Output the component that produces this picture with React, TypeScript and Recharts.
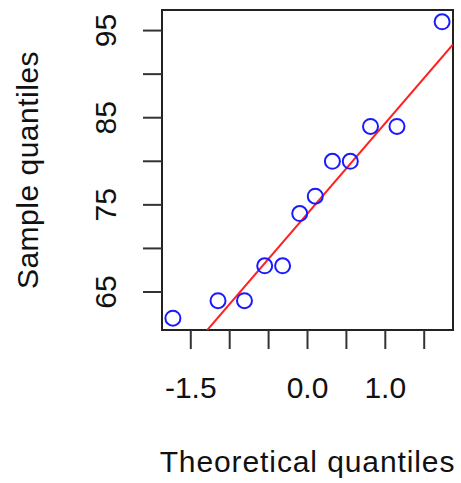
import React from 'react';
import { ScatterChart, Scatter, XAxis, YAxis, ReferenceLine, ReferenceArea, Label } from 'recharts';

// theoretical quantiles (x) and sorted sample values (y)
const theoretical = [-1.73, -1.15, -0.81, -0.55, -0.32, -0.1, 0.1, 0.32, 0.55, 0.81, 1.15, 1.73];
const sample = [62, 64, 64, 68, 68, 74, 76, 80, 80, 84, 84, 96];

const xTicks = [-1.5, -1.0, -0.5, 0.0, 0.5, 1.0, 1.5];
const xTickLabels = ['-1.5', '', '', '0.0', '', '1.0', ''];
const yTicks = [65, 70, 75, 80, 85, 90, 95];
const yTickLabels = ['65', '', '75', '', '85', '', '95'];

// qq reference line end points (through 1st and 3rd quartiles)
const lineX = [-1.87, 1.87];
const lineY = [54.6, 93.4];

const xDomain = [-1.87, 1.87];
const yDomain = [60.64, 97.36];

const FONT = '"Liberation Sans", Arial, Helvetica, sans-serif';
const FS = 30;

const points = theoretical.map((x, i) => ({ x, y: sample[i] }));

const XTick = ({ x, payload }: any) => {
    const i = xTicks.indexOf(payload.value);
    return (
        <text x={x} y={398} textAnchor="middle" fontFamily={FONT} fontSize={FS} fill="#111">
            {xTickLabels[i]}
        </text>
    );
};

const YTick = ({ y, payload }: any) => {
    const i = yTicks.indexOf(payload.value);
    return (
        <text x={116} y={y} transform={`rotate(-90, 116, ${y})`} textAnchor="middle" fontFamily={FONT} fontSize={FS} fill="#111">
            {yTickLabels[i]}
        </text>
    );
};

const Circle = (props: any) => (
    <circle cx={props.cx} cy={props.cy} r={7.5} fill="none" stroke="#1a1aff" strokeWidth={2} />
);

const XTitle = (props: any) => {
    const vb = props.viewBox;
    return (
        <text x={vb.x + vb.width / 2} y={472} textAnchor="middle" fontFamily={FONT} fontSize={FS} letterSpacing={0.9} fill="#111">
            Theoretical quantiles
        </text>
    );
};

const YTitle = (props: any) => {
    const vb = props.viewBox;
    const cy = vb.y + vb.height / 2;
    return (
        <text x={38} y={cy} transform={`rotate(-90, 38, ${cy})`} textAnchor="middle" fontFamily={FONT} fontSize={FS} letterSpacing={0.5} fill="#111">
            Sample quantiles
        </text>
    );
};

export default function App() {
    return (
        <div style={{ position: 'absolute', left: 0, top: 0, width: 461, height: 483, background: '#fff' }}>
            <ScatterChart width={461} height={483} margin={{ top: 10, right: 8, bottom: 0, left: 0 }}>
                <XAxis
                    type="number"
                    dataKey="x"
                    domain={xDomain}
                    ticks={xTicks}
                    tick={<XTick />}
                    tickSize={19}
                    tickLine={{ stroke: '#333', strokeWidth: 2 }}
                    axisLine={false}
                    height={153}
                    allowDataOverflow
                >
                    <Label content={<XTitle />} />
                </XAxis>
                <YAxis
                    type="number"
                    dataKey="y"
                    domain={yDomain}
                    ticks={yTicks}
                    tick={<YTick />}
                    tickSize={19}
                    tickLine={{ stroke: '#333', strokeWidth: 2 }}
                    axisLine={false}
                    width={162}
                    allowDataOverflow
                >
                    <Label content={<YTitle />} />
                </YAxis>
                <ReferenceLine
                    segment={[{ x: lineX[0], y: lineY[0] }, { x: lineX[1], y: lineY[1] }]}
                    stroke="#ff2020"
                    strokeWidth={2}
                    ifOverflow="hidden"
                />
                <Scatter data={points} shape={<Circle />} isAnimationActive={false} />
                <ReferenceArea
                    x1={xDomain[0]}
                    x2={xDomain[1]}
                    y1={yDomain[0]}
                    y2={yDomain[1]}
                    fill="none"
                    stroke="#222"
                    strokeWidth={2}
                    ifOverflow="visible"
                />
            </ScatterChart>
        </div>
    );
}
